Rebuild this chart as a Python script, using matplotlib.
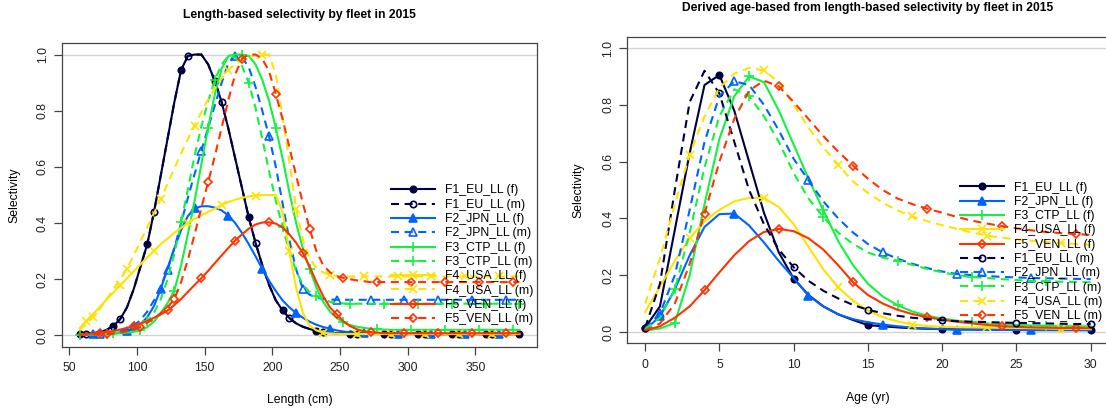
import matplotlib
matplotlib.use("Agg")
import matplotlib.pyplot as plt
from matplotlib.lines import Line2D
import numpy as np

plt.rcParams['font.family'] = ['Liberation Sans', 'DejaVu Sans']
plt.rcParams['lines.scale_dashes'] = False

# ---------------- data ----------------
fleets = ["F1_EU_LL", "F2_JPN_LL", "F3_CTP_LL", "F4_USA_LL", "F5_VEN_LL"]
length_cm = np.arange(57.5, 383.0, 5.0)   # 66 length bins
ages = np.arange(0, 31)                   # 0..30

# Length-based selectivity (66 values each)
len_F1_f = [0.005, 0.006, 0.008, 0.012, 0.02, 0.034, 0.058, 0.1, 0.165, 0.245,
            0.325, 0.44, 0.57, 0.7, 0.83, 0.945, 0.995, 1.0, 1.0, 0.965,
            0.905, 0.83, 0.735, 0.63, 0.525, 0.42, 0.33, 0.25, 0.18, 0.125,
            0.089, 0.062, 0.043, 0.031, 0.023, 0.016, 0.012, 0.009, 0.008, 0.007,
            0.006, 0.006, 0.006, 0.006, 0.006, 0.006, 0.006, 0.006, 0.006, 0.006,
            0.005, 0.005, 0.005, 0.005, 0.005, 0.005, 0.005, 0.005, 0.005, 0.005,
            0.005, 0.005, 0.005, 0.005, 0.005, 0.005]
len_F1_m = list(len_F1_f)  # male curve coincides with female
len_F2_f = [0.003, 0.003, 0.004, 0.005, 0.006, 0.008, 0.011, 0.016, 0.025, 0.04,
            0.065, 0.105, 0.166, 0.24, 0.31, 0.375, 0.425, 0.452, 0.46, 0.46,
            0.455, 0.445, 0.427, 0.4, 0.365, 0.325, 0.282, 0.237, 0.195, 0.158,
            0.125, 0.1, 0.08, 0.063, 0.049, 0.038, 0.03, 0.024, 0.018, 0.014,
            0.011, 0.009, 0.008, 0.007, 0.006, 0.006, 0.006, 0.006, 0.005, 0.005,
            0.005, 0.005, 0.005, 0.005, 0.005, 0.005, 0.005, 0.005, 0.005, 0.005,
            0.005, 0.005, 0.005, 0.005, 0.005, 0.005]
len_F2_m = [0.003, 0.004, 0.005, 0.006, 0.008, 0.011, 0.016, 0.023, 0.035, 0.055,
            0.085, 0.125, 0.175, 0.234, 0.31, 0.4, 0.49, 0.575, 0.658, 0.74,
            0.82, 0.9, 0.97, 0.996, 0.99, 0.955, 0.885, 0.8, 0.709, 0.6,
            0.47, 0.34, 0.235, 0.166, 0.145, 0.135, 0.13, 0.128, 0.127, 0.127,
            0.127, 0.127, 0.127, 0.127, 0.127, 0.127, 0.127, 0.127, 0.127, 0.127,
            0.127, 0.127, 0.127, 0.127, 0.127, 0.127, 0.127, 0.127, 0.127, 0.127,
            0.127, 0.127, 0.127, 0.127, 0.127, 0.127]
len_F3_f = [0.003, 0.003, 0.003, 0.004, 0.005, 0.006, 0.008, 0.01, 0.013, 0.018,
            0.03, 0.05, 0.08, 0.115, 0.16, 0.25, 0.36, 0.48, 0.61, 0.74,
            0.86, 0.95, 0.995, 1.0, 1.0, 0.995, 0.965, 0.91, 0.835, 0.739,
            0.63, 0.51, 0.4, 0.31, 0.237, 0.17, 0.12, 0.085, 0.062, 0.047,
            0.037, 0.031, 0.027, 0.024, 0.022, 0.021, 0.02, 0.02, 0.02, 0.02,
            0.02, 0.02, 0.02, 0.02, 0.02, 0.02, 0.02, 0.02, 0.02, 0.02,
            0.02, 0.02, 0.02, 0.02, 0.02, 0.02]
len_F3_m = [0.003, 0.004, 0.004, 0.005, 0.006, 0.007, 0.009, 0.013, 0.02, 0.032,
            0.05, 0.08, 0.13, 0.2, 0.29, 0.403, 0.52, 0.64, 0.745, 0.835,
            0.91, 0.965, 0.995, 0.99, 0.96, 0.899, 0.81, 0.7, 0.585, 0.48,
            0.385, 0.3, 0.23, 0.18, 0.155, 0.14, 0.128, 0.12, 0.116, 0.114,
            0.113, 0.113, 0.113, 0.113, 0.113, 0.113, 0.113, 0.113, 0.113, 0.113,
            0.113, 0.113, 0.113, 0.113, 0.113, 0.113, 0.113, 0.113, 0.113, 0.113,
            0.113, 0.113, 0.113, 0.113, 0.113, 0.113]
len_F4_f = [0.025, 0.05, 0.076, 0.102, 0.128, 0.153, 0.178, 0.203, 0.228, 0.253,
            0.278, 0.302, 0.325, 0.345, 0.365, 0.383, 0.4, 0.415, 0.428, 0.44,
            0.452, 0.465, 0.475, 0.483, 0.49, 0.495, 0.498, 0.5, 0.5, 0.5,
            0.44, 0.3, 0.17, 0.08, 0.035, 0.018, 0.01, 0.007, 0.006, 0.005,
            0.005, 0.005, 0.005, 0.005, 0.005, 0.005, 0.005, 0.005, 0.005, 0.005,
            0.005, 0.005, 0.005, 0.005, 0.005, 0.005, 0.005, 0.005, 0.005, 0.005,
            0.005, 0.005, 0.005, 0.005, 0.005, 0.005]
len_F4_m = [0.02, 0.04, 0.065, 0.095, 0.13, 0.165, 0.2, 0.237, 0.285, 0.335,
            0.385, 0.436, 0.486, 0.54, 0.595, 0.648, 0.7, 0.747, 0.795, 0.84,
            0.88, 0.915, 0.945, 0.965, 0.98, 0.99, 0.997, 1.0, 1.0, 0.93,
            0.78, 0.62, 0.451, 0.34, 0.275, 0.24, 0.224, 0.215, 0.212, 0.21,
            0.21, 0.21, 0.21, 0.21, 0.21, 0.21, 0.21, 0.21, 0.21, 0.21,
            0.21, 0.21, 0.21, 0.21, 0.21, 0.21, 0.21, 0.21, 0.21, 0.21,
            0.21, 0.21, 0.21, 0.21, 0.21, 0.21]
len_F5_f = [0.003, 0.005, 0.007, 0.01, 0.013, 0.016, 0.021, 0.027, 0.033, 0.042,
            0.052, 0.063, 0.075, 0.089, 0.108, 0.13, 0.155, 0.18, 0.204, 0.23,
            0.258, 0.285, 0.312, 0.338, 0.36, 0.38, 0.395, 0.402, 0.403, 0.398,
            0.385, 0.36, 0.33, 0.293, 0.245, 0.19, 0.14, 0.1, 0.075, 0.05,
            0.033, 0.022, 0.015, 0.012, 0.01, 0.008, 0.008, 0.008, 0.008, 0.008,
            0.008, 0.008, 0.008, 0.008, 0.008, 0.008, 0.008, 0.008, 0.008, 0.008,
            0.008, 0.008, 0.008, 0.008, 0.008, 0.008]
len_F5_m = [0.002, 0.003, 0.003, 0.004, 0.005, 0.007, 0.01, 0.015, 0.021, 0.03,
            0.045, 0.06, 0.08, 0.1, 0.13, 0.19, 0.27, 0.36, 0.455, 0.546,
            0.64, 0.74, 0.84, 0.93, 0.985, 1.0, 1.0, 0.985, 0.94, 0.86,
            0.77, 0.67, 0.57, 0.47, 0.38, 0.3, 0.25, 0.225, 0.21, 0.205,
            0.2, 0.196, 0.193, 0.19, 0.19, 0.19, 0.19, 0.19, 0.19, 0.19,
            0.19, 0.19, 0.19, 0.19, 0.19, 0.19, 0.19, 0.19, 0.19, 0.19,
            0.19, 0.19, 0.19, 0.19, 0.19, 0.19]

# Derived age-based selectivity (31 values each, ages 0..30)
age_F1_f = [0.015, 0.09, 0.36, 0.63, 0.87, 0.905, 0.78, 0.6, 0.42, 0.28, 0.188,
            0.13, 0.09, 0.062, 0.042, 0.024, 0.02, 0.016, 0.013, 0.011, 0.01,
            0.009, 0.009, 0.008, 0.008, 0.008, 0.008, 0.007, 0.007, 0.007, 0.007]
age_F1_m = [0.015, 0.17, 0.5, 0.81, 0.92, 0.84, 0.67, 0.5, 0.38, 0.29, 0.228,
            0.18, 0.145, 0.118, 0.095, 0.078, 0.066, 0.057, 0.05, 0.045, 0.041,
            0.038, 0.036, 0.035, 0.033, 0.032, 0.031, 0.03, 0.029, 0.028, 0.028]
age_F2_f = [0.008, 0.055, 0.15, 0.27, 0.37, 0.415, 0.417, 0.375, 0.315, 0.25, 0.19,
            0.128, 0.09, 0.062, 0.045, 0.034, 0.026, 0.02, 0.015, 0.012, 0.01,
            0.008, 0.008, 0.007, 0.007, 0.007, 0.006, 0.006, 0.006, 0.006, 0.006]
age_F2_m = [0.012, 0.065, 0.2, 0.43, 0.67, 0.83, 0.883, 0.87, 0.8, 0.71, 0.61,
            0.534, 0.46, 0.4, 0.35, 0.31, 0.28, 0.258, 0.24, 0.225, 0.213,
            0.204, 0.2, 0.197, 0.194, 0.192, 0.19, 0.189, 0.188, 0.187, 0.186]
age_F3_f = [0.005, 0.012, 0.032, 0.2, 0.45, 0.68, 0.83, 0.9, 0.88, 0.78, 0.66,
            0.54, 0.428, 0.32, 0.235, 0.17, 0.125, 0.094, 0.072, 0.057, 0.047,
            0.04, 0.034, 0.03, 0.027, 0.025, 0.023, 0.022, 0.021, 0.02, 0.02]
age_F3_m = [0.01, 0.05, 0.15, 0.35, 0.58, 0.76, 0.855, 0.83, 0.76, 0.67, 0.56,
            0.47, 0.404, 0.35, 0.31, 0.28, 0.262, 0.251, 0.236, 0.222, 0.21,
            0.2, 0.194, 0.19, 0.186, 0.183, 0.18, 0.178, 0.177, 0.176, 0.175]
age_F4_f = [0.07, 0.16, 0.25, 0.33, 0.39, 0.43, 0.46, 0.472, 0.472, 0.44, 0.38,
            0.3, 0.22, 0.157, 0.11, 0.075, 0.052, 0.037, 0.026, 0.021, 0.018,
            0.017, 0.016, 0.016, 0.015, 0.014, 0.013, 0.012, 0.011, 0.011, 0.01]
age_F4_m = [0.1, 0.26, 0.45, 0.624, 0.76, 0.86, 0.91, 0.93, 0.921, 0.88, 0.8,
            0.72, 0.65, 0.589, 0.53, 0.49, 0.455, 0.428, 0.407, 0.39, 0.376,
            0.363, 0.35, 0.339, 0.332, 0.326, 0.321, 0.317, 0.313, 0.31, 0.307]
age_F5_f = [0.005, 0.02, 0.05, 0.09, 0.147, 0.21, 0.27, 0.32, 0.352, 0.363, 0.355,
            0.33, 0.29, 0.235, 0.175, 0.13, 0.1, 0.078, 0.063, 0.052, 0.043,
            0.036, 0.03, 0.025, 0.02, 0.018, 0.016, 0.015, 0.014, 0.014, 0.013]
age_F5_m = [0.005, 0.03, 0.1, 0.24, 0.417, 0.6, 0.75, 0.85, 0.885, 0.865, 0.81,
            0.75, 0.69, 0.635, 0.586, 0.54, 0.5, 0.47, 0.45, 0.434, 0.42,
            0.405, 0.392, 0.382, 0.373, 0.365, 0.358, 0.352, 0.348, 0.345, 0.342]

len_f = [len_F1_f, len_F2_f, len_F3_f, len_F4_f, len_F5_f]
len_m = [len_F1_m, len_F2_m, len_F3_m, len_F4_m, len_F5_m]
age_f = [age_F1_f, age_F2_f, age_F3_f, age_F4_f, age_F5_f]
age_m = [age_F1_m, age_F2_m, age_F3_m, age_F4_m, age_F5_m]

# ---------------- style ----------------
colors = ['#000040', '#0063FF', '#13F240', '#FEE201', '#FF3300']
markers = ['o', '^', '+', 'x', 'D']
msizes = [4.6, 5.6, 6.5, 5.2, 4.4]
DASH = (5.8, 4.0)
LW = 1.5


def style(i, sex):
    ls = '-' if sex == 'f' else (0, DASH)
    filled = (sex == 'f') and markers[i] in ('o', '^')
    return dict(color=colors[i], lw=LW, ls=ls, marker=markers[i], ms=msizes[i],
                mew=1.2, mec=colors[i],
                mfc=colors[i] if filled else 'none')


W, H = 1106, 408
fig = plt.figure(figsize=(W / 100, H / 100), dpi=100)


def px_axes(l, t, r, b):
    return fig.add_axes([l / W, 1 - b / H, (r - l) / W, (b - t) / H])


axL = px_axes(62, 43.3, 537, 346.7)
axR = px_axes(627.3, 36.7, 1108.5, 343.3)

FS = 8.8
for ax in (axL, axR):
    ax.axhline(0, color='#d4d4d4', lw=1.0, zorder=0.5)
    ax.axhline(1, color='#d4d4d4', lw=1.0, zorder=0.5)
    ax.set_ylim(-0.04, 1.04)
    ax.set_yticks([0, 0.2, 0.4, 0.6, 0.8, 1.0])
    ax.set_yticklabels(['0.0', '0.2', '0.4', '0.6', '0.8', '1.0'])
    for s in ax.spines.values():
        s.set_color('#444444')
        s.set_linewidth(0.9)
    ax.tick_params(direction='out', length=6, width=0.9, color='#444444',
                   labelsize=FS, labelcolor='#222222')
    ax.tick_params(axis='x', pad=5)
    ax.tick_params(axis='y', pad=3.5)
    for lab in ax.get_yticklabels():
        lab.set_rotation(90)
        lab.set_va('center')

# left: length-based
axL.set_xlim(44.5, 395.5)
axL.set_xticks([50, 100, 150, 200, 250, 300, 350])
handlesL, labelsL = [], []
k = 0
for i in range(5):
    for sex, data in (('f', len_f[i]), ('m', len_m[i])):
        st = style(i, sex)
        axL.plot(length_cm, data, markevery=(k % 5, 5), **st)
        handlesL.append(Line2D([], [], **st))
        labelsL.append(f"{fleets[i]} ({sex})")
        k += 1

# right: age-based
axR.set_xlim(-1.2, 31.2)
axR.set_xticks([0, 5, 10, 15, 20, 25, 30])
handlesR, labelsR = [], []
for sex, group in (('f', age_f), ('m', age_m)):
    for i in range(5):
        st = style(i, sex)
        axR.plot(ages, group[i], markevery=(i, 5), **st)
        handlesR.append(Line2D([], [], **st))
        labelsR.append(f"{fleets[i]} ({sex})")

legkw = dict(loc='upper left', bbox_transform=fig.transFigure, frameon=False,
             borderpad=0, borderaxespad=0, handlelength=3.6, handletextpad=0.82,
             labelspacing=0.19, fontsize=FS, numpoints=1)
axL.legend(handlesL, labelsL, bbox_to_anchor=(391 / W, 1 - 184.5 / H), **legkw)
axR.legend(handlesR, labelsR, bbox_to_anchor=(960 / W, 1 - 181.5 / H), **legkw)

# titles and axis labels
fig.text(299.5 / W, 1 - 15 / H, "Length-based selectivity by fleet in 2015",
         ha='center', va='center', fontsize=8.7, fontweight='bold')
fig.text(867.5 / W, 1 - 8 / H, "Derived age-based from length-based selectivity by fleet in 2015",
         ha='center', va='center', fontsize=8.7, fontweight='bold')
fig.text(299.5 / W, 1 - 400 / H, "Length (cm)", ha='center', va='center', fontsize=FS)
fig.text(867.5 / W, 1 - 398 / H, "Age (yr)", ha='center', va='center', fontsize=FS)
fig.text(14 / W, 1 - 195 / H, "Selectivity", ha='center', va='center', rotation=90, fontsize=FS)
fig.text(578 / W, 1 - 190 / H, "Selectivity", ha='center', va='center', rotation=90, fontsize=FS)

fig.savefig('out.png', dpi=100)
